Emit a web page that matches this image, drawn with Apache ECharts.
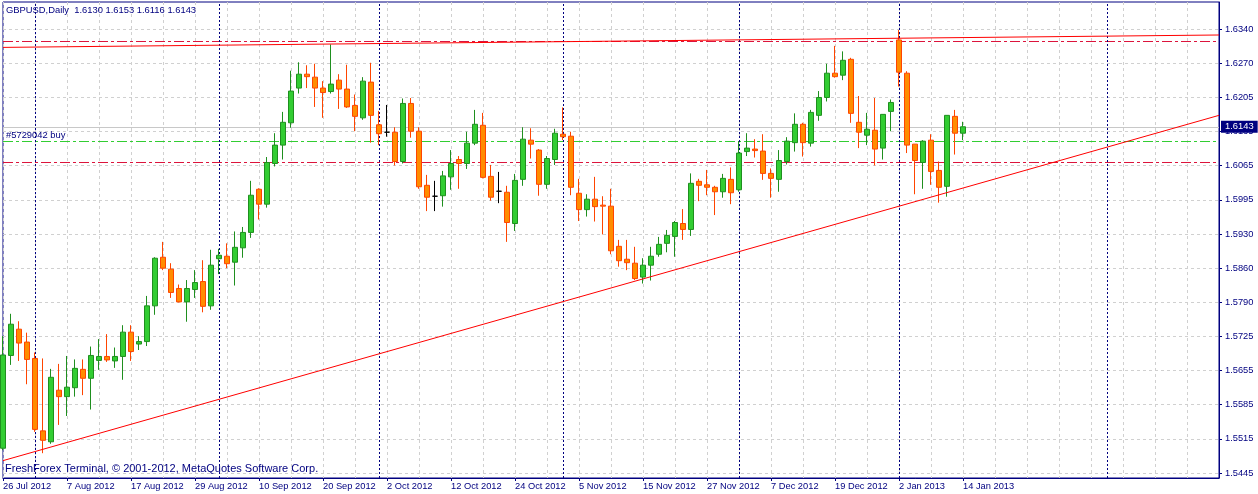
<!DOCTYPE html>
<html>
<head>
<meta charset="utf-8">
<script src="https://cdn.jsdelivr.net/npm/echarts@6/dist/echarts.min.js"></script>
<style>
html,body{margin:0;padding:0;background:#ffffff;}
#chart{width:1258px;height:494px;}
</style>
</head>
<body>
<div id="chart"></div>
<script>
const symbolName = 'GBPUSD';
const periodName = 'Daily';
const footerText = 'FreshForex Terminal, \u00A9 2001-2012, MetaQuotes Software Corp.';

const dates = [
'2012-07-26','2012-07-27','2012-07-30','2012-07-31','2012-08-01','2012-08-02','2012-08-03','2012-08-06','2012-08-07','2012-08-08',
'2012-08-09','2012-08-10','2012-08-13','2012-08-14','2012-08-15','2012-08-16','2012-08-17','2012-08-20','2012-08-21','2012-08-22',
'2012-08-23','2012-08-24','2012-08-27','2012-08-28','2012-08-29','2012-08-30','2012-08-31','2012-09-03','2012-09-04','2012-09-05',
'2012-09-06','2012-09-07','2012-09-10','2012-09-11','2012-09-12','2012-09-13','2012-09-14','2012-09-17','2012-09-18','2012-09-19',
'2012-09-20','2012-09-21','2012-09-24','2012-09-25','2012-09-26','2012-09-27','2012-09-28','2012-10-01','2012-10-02','2012-10-03',
'2012-10-04','2012-10-05','2012-10-08','2012-10-09','2012-10-10','2012-10-11','2012-10-12','2012-10-15','2012-10-16','2012-10-17',
'2012-10-18','2012-10-19','2012-10-22','2012-10-23','2012-10-24','2012-10-25','2012-10-26','2012-10-29','2012-10-30','2012-10-31',
'2012-11-01','2012-11-02','2012-11-05','2012-11-06','2012-11-07','2012-11-08','2012-11-09','2012-11-12','2012-11-13','2012-11-14',
'2012-11-15','2012-11-16','2012-11-19','2012-11-20','2012-11-21','2012-11-22','2012-11-23','2012-11-26','2012-11-27','2012-11-28',
'2012-11-29','2012-11-30','2012-12-03','2012-12-04','2012-12-05','2012-12-06','2012-12-07','2012-12-10','2012-12-11','2012-12-12',
'2012-12-13','2012-12-14','2012-12-17','2012-12-18','2012-12-19','2012-12-20','2012-12-21','2012-12-24','2012-12-26','2012-12-27',
'2012-12-28','2012-12-31','2013-01-02','2013-01-03','2013-01-04','2013-01-07','2013-01-08','2013-01-09','2013-01-10','2013-01-11',
'2013-01-14'
];

// empty future slots to the right of the last bar (chart shift area)
const futureDates = [
'2013-01-15','2013-01-16','2013-01-17','2013-01-18','2013-01-19','2013-01-20','2013-01-21','2013-01-22','2013-01-23','2013-01-24',
'2013-01-25','2013-01-26','2013-01-27','2013-01-28','2013-01-29','2013-01-30','2013-01-31','2013-02-01','2013-02-02','2013-02-03',
'2013-02-04','2013-02-05','2013-02-06','2013-02-07','2013-02-08','2013-02-09','2013-02-10','2013-02-11','2013-02-12','2013-02-13',
'2013-02-14','2013-02-15'
];

const opens = [
1.5495,1.5682,1.5735,1.5709,1.5676,1.5530,1.5508,1.5612,1.5599,1.5617,
1.5654,1.5636,1.5672,1.5680,1.5671,1.5680,1.5729,1.5705,1.5710,1.5782,
1.5880,1.5856,1.5817,1.5790,1.5815,1.5831,1.5782,1.5877,1.5882,1.5870,
1.5899,1.5930,1.6017,1.5987,1.6069,1.6106,1.6151,1.6221,1.6249,1.6243,
1.6221,1.6214,1.6237,1.6219,1.6186,1.6161,1.6233,1.6147,1.6132,1.6132,
1.6073,1.6190,1.6134,1.6025,1.6003,1.6004,1.6042,1.6077,1.6069,1.6110,
1.6146,1.6043,1.6013,1.6011,1.5948,1.6037,1.6116,1.6096,1.6027,1.6077,
1.6128,1.6124,1.6009,1.5976,1.5997,1.5985,1.5983,1.5902,1.5876,1.5868,
1.5840,1.5864,1.5886,1.5908,1.5922,1.5948,1.5936,1.6033,1.6026,1.6021,
1.6012,1.6037,1.6016,1.6093,1.6098,1.6094,1.6049,1.6037,1.6073,1.6111,
1.6148,1.6110,1.6166,1.6202,1.6251,1.6247,1.6279,1.6152,1.6126,1.6136,
1.6100,1.6174,1.6318,1.6251,1.6108,1.6071,1.6116,1.6055,1.6023,1.6164,
1.6130
];
const highs = [
1.5721,1.5766,1.5751,1.5728,1.5688,1.5676,1.5655,1.5665,1.5681,1.5674,
1.5674,1.5700,1.5715,1.5725,1.5698,1.5743,1.5743,1.5721,1.5802,1.5880,
1.5911,1.5868,1.5825,1.5834,1.5854,1.5874,1.5895,1.5897,1.5908,1.5932,
1.5941,1.6034,1.6019,1.6082,1.6130,1.6173,1.6256,1.6273,1.6267,1.6270,
1.6235,1.6309,1.6249,1.6268,1.6208,1.6243,1.6272,1.6175,1.6187,1.6142,
1.6200,1.6201,1.6142,1.6046,1.6034,1.6054,1.6096,1.6084,1.6133,1.6177,
1.6171,1.6066,1.6052,1.6024,1.6048,1.6142,1.6140,1.6098,1.6084,1.6139,
1.6182,1.6133,1.6038,1.6007,1.6042,1.6003,1.6018,1.5915,1.5915,1.5901,
1.5878,1.5901,1.5921,1.5935,1.5953,1.5977,1.6049,1.6038,1.6056,1.6024,
1.6048,1.6061,1.6114,1.6130,1.6118,1.6128,1.6059,1.6096,1.6122,1.6170,
1.6151,1.6177,1.6215,1.6270,1.6306,1.6295,1.6282,1.6205,1.6171,1.6201,
1.6168,1.6198,1.6338,1.6255,1.6108,1.6116,1.6128,1.6073,1.6166,1.6177,
1.6153
];
const lows = [
1.5491,1.5663,1.5671,1.5624,1.5528,1.5485,1.5504,1.5542,1.5560,1.5599,
1.5602,1.5573,1.5653,1.5669,1.5657,1.5633,1.5671,1.5693,1.5701,1.5764,
1.5854,1.5798,1.5789,1.5750,1.5798,1.5769,1.5774,1.5846,1.5858,1.5823,
1.5879,1.5919,1.5956,1.5980,1.6063,1.6077,1.6141,1.6210,1.6221,1.6183,
1.6161,1.6210,1.6179,1.6181,1.6134,1.6157,1.6111,1.6106,1.6123,1.6065,
1.6069,1.6121,1.6018,1.5973,1.5973,1.5982,1.6016,1.6018,1.6058,1.6106,
1.6039,1.5994,1.5989,1.5911,1.5933,1.6024,1.6079,1.6004,1.6018,1.6066,
1.6116,1.6005,1.5953,1.5962,1.5952,1.5926,1.5886,1.5861,1.5854,1.5834,
1.5827,1.5833,1.5881,1.5890,1.5881,1.5915,1.5923,1.5993,1.6005,1.5965,
1.6000,1.5987,1.6012,1.6084,1.6081,1.6036,1.6000,1.6012,1.6067,1.6093,
1.6083,1.6103,1.6155,1.6194,1.6242,1.6237,1.6151,1.6100,1.6106,1.6065,
1.6077,1.6134,1.6224,1.6090,1.6007,1.6018,1.6026,1.5990,1.6002,1.6087,
1.6116
];
const closes = [
1.5683,1.5745,1.5707,1.5674,1.5533,1.5511,1.5638,1.5599,1.5618,1.5656,
1.5636,1.5682,1.5680,1.5673,1.5680,1.5729,1.5690,1.5710,1.5782,1.5878,
1.5858,1.5809,1.5790,1.5817,1.5829,1.5781,1.5864,1.5884,1.5867,1.5900,
1.5930,1.6005,1.5987,1.6071,1.6106,1.6152,1.6215,1.6249,1.6244,1.6221,
1.6212,1.6229,1.6219,1.6183,1.6164,1.6235,1.6166,1.6129,1.6132,1.6073,
1.6190,1.6134,1.6022,1.6001,1.6003,1.6044,1.6069,1.6069,1.6110,1.6148,
1.6041,1.6001,1.6013,1.5950,1.6035,1.6118,1.6108,1.6027,1.6079,1.6130,
1.6123,1.6021,1.5976,1.5997,1.5982,1.5983,1.5893,1.5873,1.5869,1.5837,
1.5864,1.5882,1.5906,1.5924,1.5950,1.5936,1.6029,1.6025,1.6021,1.6012,
1.6039,1.6010,1.6090,1.6100,1.6095,1.6049,1.6039,1.6075,1.6114,1.6148,
1.6111,1.6172,1.6202,1.6251,1.6244,1.6277,1.6170,1.6132,1.6138,1.6098,
1.6168,1.6192,1.6253,1.6106,1.6075,1.6114,1.6053,1.6021,1.6166,1.6130,
1.6143
];

const yTickLabels = ['1.6340','1.6270','1.6205','1.6135','1.6065','1.5995','1.5930','1.5860','1.5790','1.5725','1.5655','1.5585','1.5515','1.5445'];
const periodSeparators = ['2012-08-01','2012-09-03','2012-10-01','2012-11-01','2012-12-03','2013-01-02','2013-02-01'];

const bidPrice = 1.6143;
const orderLabel = '#5729042 buy';
const orderOpen = 1.6114;
const orderTP = 1.6315;
const orderSL = 1.6071;

const upperTrend = [['2012-07-26', 1.6303], ['2013-02-15', 1.6328]];
const lowerTrend = [['2012-07-26', 1.5470], ['2013-02-15', 1.6166]];

const yMin = 1.5435;
const yMax = 1.63945;

// ---------- build ----------
const FONT = 'Tahoma, "Liberation Sans", Arial, sans-serif';
const NAVY = '#000080';
const GRID = '#d0d0d0';
const months = ['Jan','Feb','Mar','Apr','May','Jun','Jul','Aug','Sep','Oct','Nov','Dec'];
const categories = dates.concat(futureDates);
const lastIdx = dates.length - 1;
const candles = opens.map((o, i) => [o, closes[i], lows[i], highs[i]]);
const nT = yTickLabels.length;
const tTop = Number(yTickLabels[0]);
const tBot = Number(yTickLabels[nT - 1]);
const tStep = (tTop - tBot) / (nT - 1);
const yTickValues = yTickLabels.map((_, k) => tTop - k * tStep);
const idx = d => categories.indexOf(d);
const lastBar = [opens[lastIdx], highs[lastIdx], lows[lastIdx], closes[lastIdx]].map(v => v.toFixed(4)).join(' ');

function fmtDate(s) {
  const p = s.split('-');
  return Number(p[2]) + ' ' + months[Number(p[1]) - 1] + ' ' + p[0];
}

const dashDot = [10, 3, 3, 3];

const option = {
  animation: false,
  backgroundColor: '#ffffff',
  textStyle: { fontFamily: FONT },
  title: [
    {
      text: symbolName + ',' + periodName + '  ' + lastBar,
      left: 6, top: 6, padding: 0,
      textStyle: { fontFamily: FONT, fontSize: 9.4, fontWeight: 'normal', color: NAVY }
    },
    {
      text: footerText,
      left: 5, top: 463, padding: 0,
      textStyle: { fontFamily: FONT, fontSize: 11, fontWeight: 'normal', color: NAVY }
    }
  ],
  grid: {
    left: 3, right: 39, top: 2, bottom: 16,
    show: true, borderColor: NAVY, borderWidth: 1, backgroundColor: 'transparent'
  },
  xAxis: {
    type: 'category',
    data: categories,
    boundaryGap: false,
    axisLine: { show: true, lineStyle: { color: NAVY, width: 1 } },
    axisTick: {
      show: true, length: 3,
      interval: (i) => i % 8 === 0 && i <= lastIdx,
      lineStyle: { color: NAVY }
    },
    axisLabel: {
      interval: (i) => i % 8 === 0 && i <= lastIdx,
      formatter: (v) => fmtDate(v),
      align: 'left',
      margin: 4,
      color: NAVY,
      fontFamily: FONT,
      fontSize: 9.3
    },
    splitLine: {
      show: true,
      interval: (i) => i % 4 === 0,
      lineStyle: { color: GRID, type: [3, 3], width: 1 }
    }
  },
  yAxis: {
    type: 'value',
    position: 'right',
    min: yMin,
    max: yMax,
    scale: true,
    axisLine: { show: true, lineStyle: { color: NAVY, width: 1 } },
    axisTick: {
      show: true, length: 3,
      customValues: yTickValues,
      lineStyle: { color: NAVY }
    },
    axisLabel: {
      customValues: yTickValues,
      formatter: (v) => {
        const k = Math.round((tTop - v) / tStep);
        return yTickLabels[k] || '';
      },
      margin: 6,
      color: NAVY,
      fontFamily: FONT,
      fontSize: 9.3
    },
    splitLine: {
      show: true,
      lineStyle: { color: GRID, type: [3, 3], width: 1 }
    }
  },
  series: [
    {
      name: 'levels',
      type: 'line',
      data: [],
      z: 1,
      silent: true,
      markLine: {
        silent: true,
        animation: false,
        precision: 5,
        z: 1,
        symbol: ['none', 'none'],
        label: { show: false },
        data: [
          { yAxis: orderTP, lineStyle: { color: '#dc143c', type: dashDot, width: 1 } },
          { yAxis: orderSL, lineStyle: { color: '#dc143c', type: dashDot, width: 1 } },
          {
            yAxis: orderOpen,
            lineStyle: { color: '#32cd32', type: dashDot, width: 1 },
            label: {
              show: true, position: 'insideStartTop', formatter: orderLabel,
              color: NAVY, fontFamily: FONT, fontSize: 9.4, distance: [3, 1]
            }
          },
          {
            yAxis: bidPrice,
            lineStyle: { color: '#c8c8c8', type: 'solid', width: 1 },
            label: {
              show: true, position: 'end', formatter: bidPrice.toFixed(4),
              color: '#ffffff', backgroundColor: NAVY, padding: [2, 4, 1, 4],
              distance: 2, fontFamily: FONT, fontSize: 9.4
            }
          }
        ].concat(periodSeparators.map(d => ({
          xAxis: idx(d),
          lineStyle: { color: NAVY, type: [2, 2], width: 1 }
        })))
      }
    },
    {
      name: symbolName,
      type: 'candlestick',
      data: candles,
      barWidth: 5,
      clip: true,
      z: 2,
      itemStyle: {
        color: '#32cd32',
        color0: '#ff8c00',
        borderColor: '#1f8f1f',
        borderColor0: '#ff4500',
        borderColorDoji: '#000000',
        borderWidth: 1
      }
    },
    {
      name: 'trendUpper',
      type: 'line',
      data: upperTrend.map(p => [idx(p[0]), p[1]]),
      symbol: 'none',
      z: 3,
      silent: true,
      lineStyle: { color: '#ff0000', width: 1 }
    },
    {
      name: 'trendLower',
      type: 'line',
      data: lowerTrend.map(p => [idx(p[0]), p[1]]),
      symbol: 'none',
      z: 3,
      silent: true,
      lineStyle: { color: '#ff0000', width: 1 }
    }
  ]
};

const chart = echarts.init(document.getElementById('chart'), null, { renderer: 'canvas' });
chart.setOption(option);
</script>
</body>
</html>
